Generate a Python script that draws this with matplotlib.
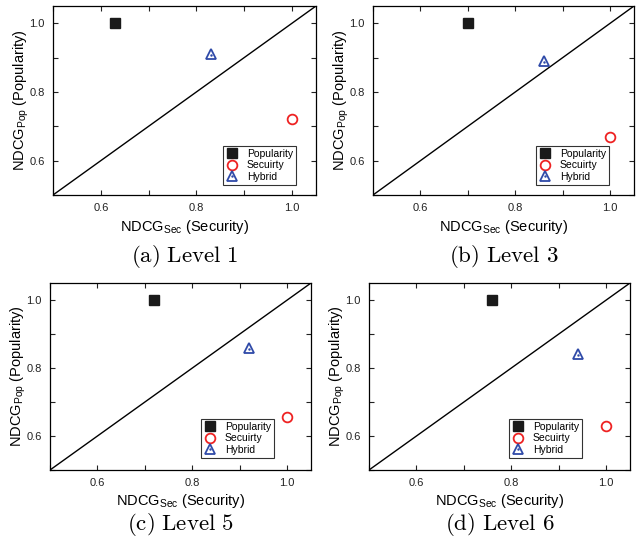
import numpy as np
from matplotlib import pyplot as plt
from matplotlib import rcParams
from matplotlib.ticker import MultipleLocator

rcParams['font.family'] = 'Liberation Sans'
rcParams['mathtext.fontset'] = 'custom'
rcParams['mathtext.rm'] = 'Liberation Sans'
rcParams['xtick.direction'] = 'in'
rcParams['ytick.direction'] = 'in'
rcParams['xtick.top'] = True
rcParams['ytick.right'] = True

#%% data
captions = ['(a) Level 1', '(b) Level 3', '(c) Level 5', '(d) Level 6']
pop_x = [0.63, 0.70, 0.72, 0.76]
pop_y = [1.00, 1.00, 1.00, 1.00]
sec_x = [1.00, 1.00, 1.00, 1.00]
sec_y = [0.72, 0.67, 0.655, 0.63]
hyb_x = [0.83, 0.86, 0.92, 0.94]
hyb_y = [0.91, 0.89, 0.86, 0.84]
ticks = [0.6, 0.8, 1.0]

#%%
W, H = 644, 546
fig = plt.figure(figsize=(W/100, H/100), dpi=100)

# axes boxes in pixels: left, top, right, bottom, caption y
boxes = [(53, 6, 316, 195, 256), (373, 6, 634, 195, 256),
         (50, 283, 311, 470, 524), (369, 283, 630, 470, 524)]
# legend lower-right anchor (axes fraction)
lg_pos = [(0.924, 0.053), (0.904, 0.053), (0.858, 0.064), (0.816, 0.064)]

for i, (l, t, r, b, cyp) in enumerate(boxes):
    ax = fig.add_axes([l/W, 1-b/H, (r-l)/W, (b-t)/H])
    ax.plot([0.5, 1.05], [0.5, 1.05], color='k', linewidth=1)
    h1, = ax.plot(pop_x[i], pop_y[i], 's', color='#1a1a1a', markersize=7, linestyle='none')
    h2, = ax.plot(sec_x[i], sec_y[i], 'o', mfc='none', mec='#ee2222', mew=1.3, markersize=7, linestyle='none')
    h3, = ax.plot(hyb_x[i], hyb_y[i], '^', mfc='none', mec='#2f4aa8', mew=1.3, markersize=7.5, linestyle='none')
    h3d, = ax.plot(hyb_x[i], hyb_y[i] - 0.003, '.', color='#2f4aa8', markersize=1.5, linestyle='none')

    ax.set_xlim(0.5, 1.05)
    ax.set_ylim(0.5, 1.05)
    ax.set_xticks(ticks)
    ax.set_yticks(ticks)
    ax.set_xticklabels(['%.1f' % v for v in ticks])
    ax.set_yticklabels(['%.1f' % v for v in ticks])
    ax.xaxis.set_minor_locator(MultipleLocator(0.1))
    ax.yaxis.set_minor_locator(MultipleLocator(0.1))
    ax.tick_params(which='both', length=3.5, width=0.8, labelsize=8, colors='#222222', pad=6)
    for sp in ax.spines.values():
        sp.set_linewidth(0.9)

    ax.set_xlabel(r'NDCG$_{\mathrm{Sec}}$ (Security)', fontsize=10.5, labelpad=3)
    ax.set_ylabel(r'NDCG$_{\mathrm{Pop}}$ (Popularity)', fontsize=10.5, labelpad=-1)

    lg = ax.legend([h1, h2, (h3, h3d)], ['Popularity', 'Secuirty', 'Hybrid'],
                   loc='lower right', bbox_to_anchor=lg_pos[i], fontsize=7.5, frameon=True,
                   fancybox=False, edgecolor='k', handlelength=1.2, handletextpad=0.8,
                   labelspacing=0.15, borderpad=0.3, borderaxespad=0)
    lg.get_frame().set_linewidth(0.8)

    cx = (l + r) / 2 / W
    cy = 1 - cyp / H
    fig.text(cx, cy, r'$\mathrm{' + captions[i].replace(' ', r'\ ') + '}$', fontsize=16.5,
             math_fontfamily='cm', ha='center', va='center')

fig.savefig('out.png', dpi=100)
